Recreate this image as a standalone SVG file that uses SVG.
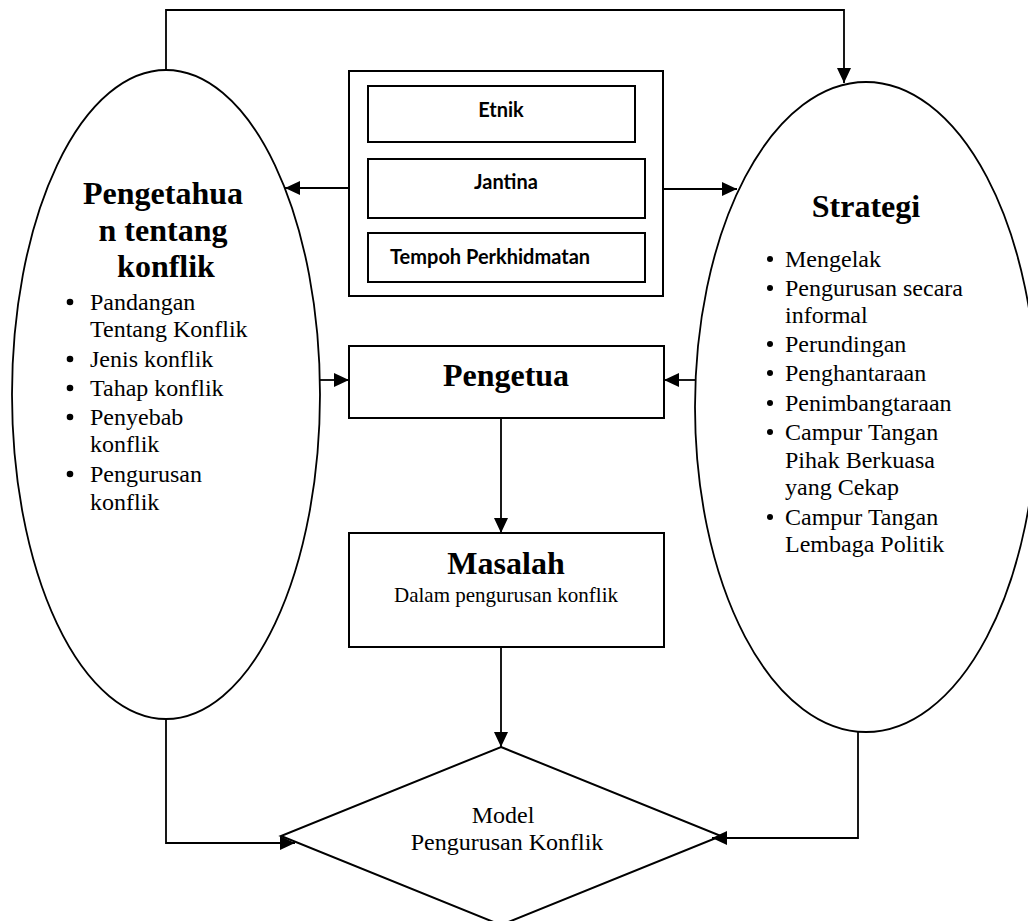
<svg xmlns="http://www.w3.org/2000/svg" width="1028" height="921" viewBox="0 0 1028 921">
  <style>
    .shape { fill: #ffffff; stroke: #000000; stroke-width: 2; }
    .ell { fill: #ffffff; stroke: #000000; stroke-width: 1.8; }
    .arr { fill: none; stroke: #000000; stroke-width: 1.8; marker-end: url(#ah); }
    .serif { font-family: "Liberation Serif", "Times New Roman", serif; fill: #000000; }
    .head { font-size: 32px; font-weight: bold; }
    .item { font-size: 24px; }
    .sans { font-family: Lato, "Liberation Sans", Arial, sans-serif; font-weight: bold; font-size: 20px; fill: #000000; }
    .dot { fill: #000000; }
  </style>
  <defs>
    <marker id="ah" markerUnits="userSpaceOnUse" markerWidth="16" markerHeight="14" refX="15" refY="7" orient="auto">
      <path d="M0,0 L15,7 L0,14 Z" fill="#000000"/>
    </marker>
  </defs>
  <rect x="0" y="0" width="1028" height="921" fill="#ffffff"/>

  <g id="node-pengetahuan">
    <ellipse class="ell" cx="166" cy="394.5" rx="154" ry="324.5"/>
    <text class="serif head" text-anchor="middle" x="163" y="204">Pengetahua</text>
    <text class="serif head" text-anchor="middle" x="163" y="241">n tentang</text>
    <text class="serif head" text-anchor="middle" x="166" y="277">konflik</text>
    <circle class="dot" cx="70" cy="302" r="3.3"/>
    <text class="serif item" x="90" y="310">Pandangan</text>
    <text class="serif item" x="90" y="337">Tentang Konflik</text>
    <circle class="dot" cx="70" cy="359" r="3.3"/>
    <text class="serif item" x="90" y="367">Jenis konflik</text>
    <circle class="dot" cx="70" cy="388" r="3.3"/>
    <text class="serif item" x="90" y="396">Tahap konflik</text>
    <circle class="dot" cx="70" cy="417" r="3.3"/>
    <text class="serif item" x="90" y="425">Penyebab</text>
    <text class="serif item" x="90" y="452">konflik</text>
    <circle class="dot" cx="70" cy="474" r="3.3"/>
    <text class="serif item" x="90" y="482">Pengurusan</text>
    <text class="serif item" x="90" y="510">konflik</text>
  </g>

  <g id="node-strategi">
    <ellipse class="ell" cx="866" cy="407" rx="171" ry="325"/>
    <text class="serif head" text-anchor="middle" x="866" y="217">Strategi</text>
    <circle class="dot" cx="770" cy="259" r="3"/>
    <text class="serif item" x="785" y="267">Mengelak</text>
    <circle class="dot" cx="770" cy="288" r="3"/>
    <text class="serif item" x="785" y="296">Pengurusan secara</text>
    <text class="serif item" x="785" y="323">informal</text>
    <circle class="dot" cx="770" cy="344" r="3"/>
    <text class="serif item" x="785" y="352">Perundingan</text>
    <circle class="dot" cx="770" cy="373" r="3"/>
    <text class="serif item" x="785" y="381">Penghantaraan</text>
    <circle class="dot" cx="770" cy="403" r="3"/>
    <text class="serif item" x="785" y="411">Penimbangtaraan</text>
    <circle class="dot" cx="770" cy="432" r="3"/>
    <text class="serif item" x="785" y="440">Campur Tangan</text>
    <text class="serif item" x="785" y="468">Pihak Berkuasa</text>
    <text class="serif item" x="785" y="495">yang Cekap</text>
    <circle class="dot" cx="770" cy="517" r="3"/>
    <text class="serif item" x="785" y="525">Campur Tangan</text>
    <text class="serif item" x="785" y="552">Lembaga Politik</text>
  </g>

  <g id="node-faktor">
    <rect class="shape" x="349" y="71" width="314" height="225"/>
    <rect class="shape" x="368" y="86" width="267" height="56"/>
    <text class="sans" text-anchor="middle" x="501" y="117">Etnik</text>
    <rect class="shape" x="368" y="159" width="277" height="59"/>
    <text class="sans" text-anchor="middle" x="506" y="189">Jantina</text>
    <rect class="shape" x="368" y="233" width="277" height="49"/>
    <text class="sans" x="390" y="264">Tempoh Perkhidmatan</text>
  </g>

  <g id="node-pengetua">
    <rect class="shape" x="349" y="346" width="315" height="72"/>
    <text class="serif head" text-anchor="middle" x="506" y="386">Pengetua</text>
  </g>

  <g id="node-masalah">
    <rect class="shape" x="349" y="533" width="315" height="114"/>
    <text class="serif head" text-anchor="middle" x="506" y="574">Masalah</text>
    <text class="serif" font-size="21" text-anchor="middle" x="506" y="602">Dalam pengurusan konflik</text>
  </g>

  <g id="node-model">
    <polygon class="shape" points="501,747 721,836 501,925 281,836"/>
    <text class="serif item" text-anchor="middle" x="503" y="823">Model</text>
    <text class="serif item" text-anchor="middle" x="507" y="850">Pengurusan Konflik</text>
  </g>

  <g id="connectors">
    <polyline class="arr" points="166,70 166,10 844,10 844,83"/>
    <line class="arr" x1="349" y1="188" x2="285" y2="188"/>
    <line class="arr" x1="663" y1="189" x2="737" y2="189"/>
    <line class="arr" x1="320" y1="380" x2="349" y2="380"/>
    <line class="arr" x1="695" y1="380" x2="664" y2="380"/>
    <line class="arr" x1="501" y1="418" x2="501" y2="533"/>
    <line class="arr" x1="501" y1="647" x2="501" y2="747"/>
    <polyline class="arr" points="166,719 166,843 295,843"/>
    <polyline class="arr" points="858,732 858,838 712,838"/>
  </g>
</svg>
